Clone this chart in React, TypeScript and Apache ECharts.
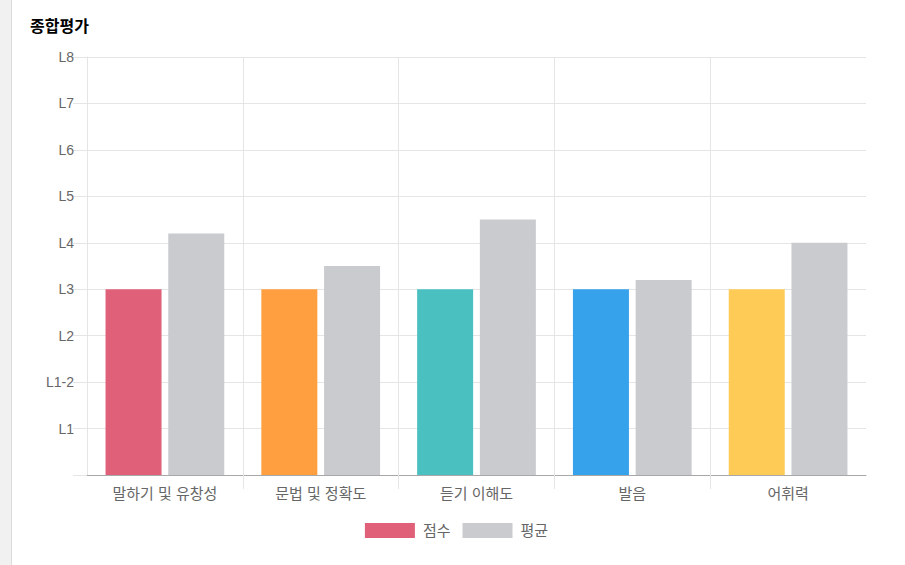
import React, { useEffect, useRef } from 'react';
import * as echarts from 'echarts';

const categories = ['말하기 및 유창성', '문법 및 정확도', '듣기 이해도', '발음', '어휘력'];
const levelLabels = ['', 'L1', 'L1-2', 'L2', 'L3', 'L4', 'L5', 'L6', 'L7', 'L8'];
const scoreValues = [4, 4, 4, 4, 4];
const averageValues = [5.2, 4.5, 5.5, 4.2, 5.0];
const scoreColors = ['#e0607a', '#ff9f40', '#4bc0c0', '#36a2eb', '#ffcb57'];
const averageColor = '#c9cbcf';
// boundaries between categories, where the short ticks under the axis sit
const innerBoundaries = [1, 2, 3, 4];

const FONT = 'Arial, "Noto Sans CJK KR", sans-serif';

export default function App() {
  const elRef = useRef<HTMLDivElement>(null);

  useEffect(() => {
    if (!elRef.current) return;
    const chart = echarts.init(elRef.current, undefined, { renderer: 'svg' });

    chart.setOption({
      animation: false,
      textStyle: { fontFamily: FONT },
      title: {
        text: '종합평가',
        left: 17,
        top: 13,
        textStyle: { fontSize: 16, fontWeight: 'bold', color: '#000', fontFamily: FONT },
      },
      legend: {
        bottom: 22,
        left: 'center',
        itemWidth: 50,
        itemHeight: 15,
        itemGap: 12,
        icon: 'rect',
        textStyle: { fontSize: 15, color: '#666', fontFamily: FONT, padding: [0, 0, 0, 3] },
        data: ['점수', '평균'],
      },
      grid: { left: 79, right: 39, top: 57, bottom: 90 },
      xAxis: [
        {
          type: 'category',
          data: categories,
          axisLine: { show: true, lineStyle: { color: '#a8a8a8', width: 1 } },
          axisTick: { show: false },
          axisLabel: { color: '#666', fontSize: 15, margin: 11, fontFamily: FONT },
          splitLine: { show: true, showMinLine: false, showMaxLine: false, lineStyle: { color: '#e5e5e5' } },
        },
        {
          type: 'value',
          position: 'bottom',
          min: 0,
          max: categories.length,
          axisLine: { show: false },
          axisLabel: { show: false },
          splitLine: { show: false },
          axisTick: {
            show: true,
            length: 14,
            customValues: innerBoundaries,
            lineStyle: { color: '#e5e5e5' },
          },
        },
      ],
      yAxis: {
        type: 'value',
        min: 0,
        max: 9,
        interval: 1,
        axisLine: { show: true, lineStyle: { color: '#e5e5e5' } },
        axisTick: { show: true, length: 14, lineStyle: { color: '#e5e5e5' } },
        axisLabel: {
          color: '#666',
          fontSize: 14,
          margin: 13,
          fontFamily: FONT,
          formatter: (v: number) => levelLabels[v] ?? '',
        },
        splitLine: { show: true, lineStyle: { color: '#e5e5e5' } },
      },
      series: [
        {
          name: '점수',
          type: 'bar',
          xAxisIndex: 0,
          color: scoreColors[0],
          barWidth: 56,
          barGap: '12%',
          data: scoreValues.map((v, i) => ({ value: v, itemStyle: { color: scoreColors[i] } })),
        },
        {
          name: '평균',
          type: 'bar',
          xAxisIndex: 0,
          color: averageColor,
          barWidth: 56,
          data: averageValues,
        },
      ],
    });

    return () => chart.dispose();
  }, []);

  return (
    <div style={{ position: 'fixed', left: 0, top: 0, width: 905, height: 565, background: '#fff' }}>
      <div
        style={{
          position: 'absolute',
          left: 0,
          top: 0,
          width: 11,
          height: 565,
          background: '#f1f1f1',
          borderRight: '1px solid #dcdcdc',
        }}
      />
      <div ref={elRef} style={{ position: 'absolute', left: 8, top: 0, width: 897, height: 565 }} />
    </div>
  );
}
